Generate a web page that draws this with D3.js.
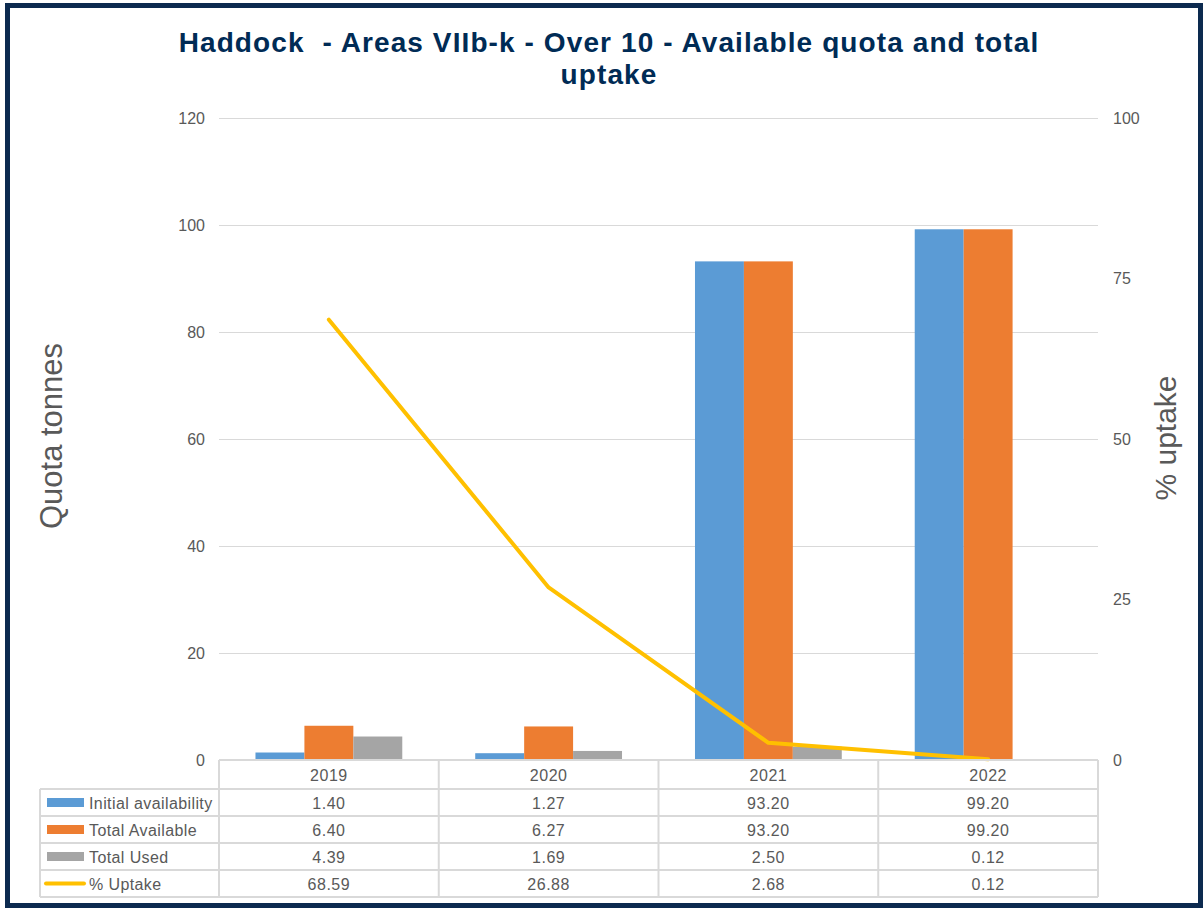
<!DOCTYPE html>
<meta charset="utf-8">
<script src="https://d3js.org/d3.v7.min.js"></script>
<style>
  body { margin: 0; background: #fff; }
  text { font-family: Arial, "Liberation Sans", sans-serif; }
</style>
<svg id="chart" width="1204" height="908"></svg>
<script>

// data
const years = ["2019", "2020", "2021", "2022"];
const initialAvail = [1.40, 1.27, 93.20, 99.20];
const totalAvail = [6.40, 6.27, 93.20, 99.20];
const totalUsed = [4.39, 1.69, 2.50, 0.12];
const pctUptake = [68.59, 26.88, 2.68, 0.12];

const seriesNames = ["Initial availability", "Total Available", "Total Used", "% Uptake"];
const leftTicks = [0, 20, 40, 60, 80, 100, 120];
const rightTicks = [0, 25, 50, 75, 100];

const colors = ["#5B9BD5", "#ED7D31", "#A5A5A5", "#FFC000"];
const textGray = "#595959";
const gridGray = "#D9D9D9";
const navy = "#0C2A4F";

const svg = d3.select("#chart");
const width = +svg.attr("width"), height = +svg.attr("height");

// frame
svg.append("rect")
  .attr("x", 7.5).attr("y", 5.5)
  .attr("width", width - 11).attr("height", height - 8)
  .attr("fill", "none").attr("stroke", navy).attr("stroke-width", 5);

// title
const title = svg.append("text")
  .attr("text-anchor", "middle")
  .attr("fill", "#002B55")
  .style("font-size", "28px").style("font-weight", "bold")
  .style("letter-spacing", "1.1px").style("white-space", "pre");
title.append("tspan").attr("x", 609).attr("y", 52)
  .text("Haddock  - Areas VIIb-k - Over 10 - Available quota and total");
title.append("tspan").attr("x", 609).attr("y", 84).text("uptake");

// scales
const plotLeft = 219, plotRight = 1098, plotTop = 118, plotBottom = 760;
const x0 = d3.scaleBand().domain(years).range([plotLeft, plotRight])
  .paddingInner(0.332).paddingOuter(0.166);
const x1 = d3.scaleBand().domain([0, 1, 2]).range([0, x0.bandwidth()]);
const y = d3.scaleLinear().domain([0, 120]).range([plotBottom, plotTop]);
const y2 = d3.scaleLinear().domain([0, 100]).range([plotBottom, plotTop]);

// gridlines
svg.append("g")
  .selectAll("line")
  .data(leftTicks.slice(1))
  .join("line")
    .attr("x1", plotLeft).attr("x2", plotRight)
    .attr("y1", d => y(d) + 0.5).attr("y2", d => y(d) + 0.5)
    .attr("stroke", gridGray).attr("stroke-width", 1);

// left axis
const yAxis = svg.append("g")
  .attr("transform", `translate(${plotLeft},0)`)
  .call(d3.axisLeft(y).tickValues(leftTicks).tickSize(0).tickPadding(14));
yAxis.select(".domain").remove();
yAxis.selectAll("text").attr("fill", textGray).style("font-size", "16px");

// right axis
const yAxis2 = svg.append("g")
  .attr("transform", `translate(${plotRight},0)`)
  .call(d3.axisRight(y2).tickValues(rightTicks).tickSize(0).tickPadding(15));
yAxis2.select(".domain").remove();
yAxis2.selectAll("text").attr("fill", textGray).style("font-size", "16px");

// axis titles
svg.append("text")
  .attr("transform", "translate(62,436) rotate(-90)")
  .attr("text-anchor", "middle")
  .attr("fill", textGray).style("font-size", "31px")
  .text("Quota tonnes");
svg.append("text")
  .attr("transform", "translate(1176,438) rotate(-90)")
  .attr("text-anchor", "middle")
  .attr("fill", textGray).style("font-size", "30px")
  .text("% uptake");

// bars
const barSeries = [initialAvail, totalAvail, totalUsed];
const barRows = years.flatMap((yr, i) => barSeries.map((s, k) => ({ yr, k, v: s[i] })));
svg.append("g")
  .selectAll("rect")
  .data(barRows)
  .join("rect")
    .attr("x", d => x0(d.yr) + x1(d.k))
    .attr("y", d => y(d.v))
    .attr("width", x1.bandwidth())
    .attr("height", d => y(0) - y(d.v))
    .attr("fill", d => colors[d.k]);

// uptake line
const line = d3.line()
  .x((d, i) => x0(years[i]) + x0.bandwidth() / 2)
  .y(d => y2(d));
svg.append("path")
  .datum(pctUptake)
  .attr("d", line)
  .attr("fill", "none")
  .attr("stroke", colors[3])
  .attr("stroke-width", 4)
  .attr("stroke-linejoin", "round")
  .attr("stroke-linecap", "round");

// data table
const tableLeft = 40, rowH = 27, headerH = 29;
const tbl = svg.append("g").attr("stroke", gridGray).attr("stroke-width", 2);
const rowTops = d3.range(5).map(i => plotBottom + headerH + i * rowH);
// header top
tbl.append("line").attr("x1", plotLeft).attr("x2", plotRight)
  .attr("y1", plotBottom).attr("y2", plotBottom);
// row lines
tbl.selectAll(".hrow").data(rowTops).join("line")
  .attr("x1", tableLeft).attr("x2", plotRight)
  .attr("y1", d => d).attr("y2", d => d);
// vertical lines
const colEdges = years.map(yr => x0(yr) - x0.step() * 0.166).concat([plotRight]);
tbl.selectAll(".vcol").data(colEdges).join("line")
  .attr("x1", d => d).attr("x2", d => d)
  .attr("y1", plotBottom).attr("y2", rowTops[4]);
tbl.append("line").attr("x1", tableLeft).attr("x2", tableLeft)
  .attr("y1", rowTops[0]).attr("y2", rowTops[4]);

// header labels
svg.append("g").selectAll("text").data(years).join("text")
  .attr("x", d => x0(d) + x0.bandwidth() / 2)
  .attr("y", plotBottom + headerH / 2 + 6)
  .attr("text-anchor", "middle")
  .attr("fill", textGray).style("font-size", "16px").style("letter-spacing", "0.5px")
  .text(d => d);

// table values
const tableSeries = [initialAvail, totalAvail, totalUsed, pctUptake];
tableSeries.forEach((s, r) => {
  svg.append("g").selectAll("text").data(s).join("text")
    .attr("x", (d, i) => x0(years[i]) + x0.bandwidth() / 2)
    .attr("y", rowTops[r] + rowH / 2 + 6)
    .attr("text-anchor", "middle")
    .attr("fill", textGray).style("font-size", "16px").style("letter-spacing", "0.5px")
    .text(d => d.toFixed(2));
});

// legend keys in table
seriesNames.forEach((name, r) => {
  const cy = rowTops[r] + rowH / 2;
  if (r < 3) {
    svg.append("rect").attr("x", 47).attr("y", cy - 4.5)
      .attr("width", 37).attr("height", 9).attr("fill", colors[r]);
  } else {
    svg.append("line").attr("x1", 46).attr("x2", 84)
      .attr("y1", cy).attr("y2", cy)
      .attr("stroke", colors[r]).attr("stroke-width", 4)
      .attr("stroke-linecap", "round");
  }
  svg.append("text").attr("x", 89).attr("y", cy + 6)
    .attr("fill", textGray).style("font-size", "16px").style("letter-spacing", "0.4px")
    .text(name);
});

</script>
